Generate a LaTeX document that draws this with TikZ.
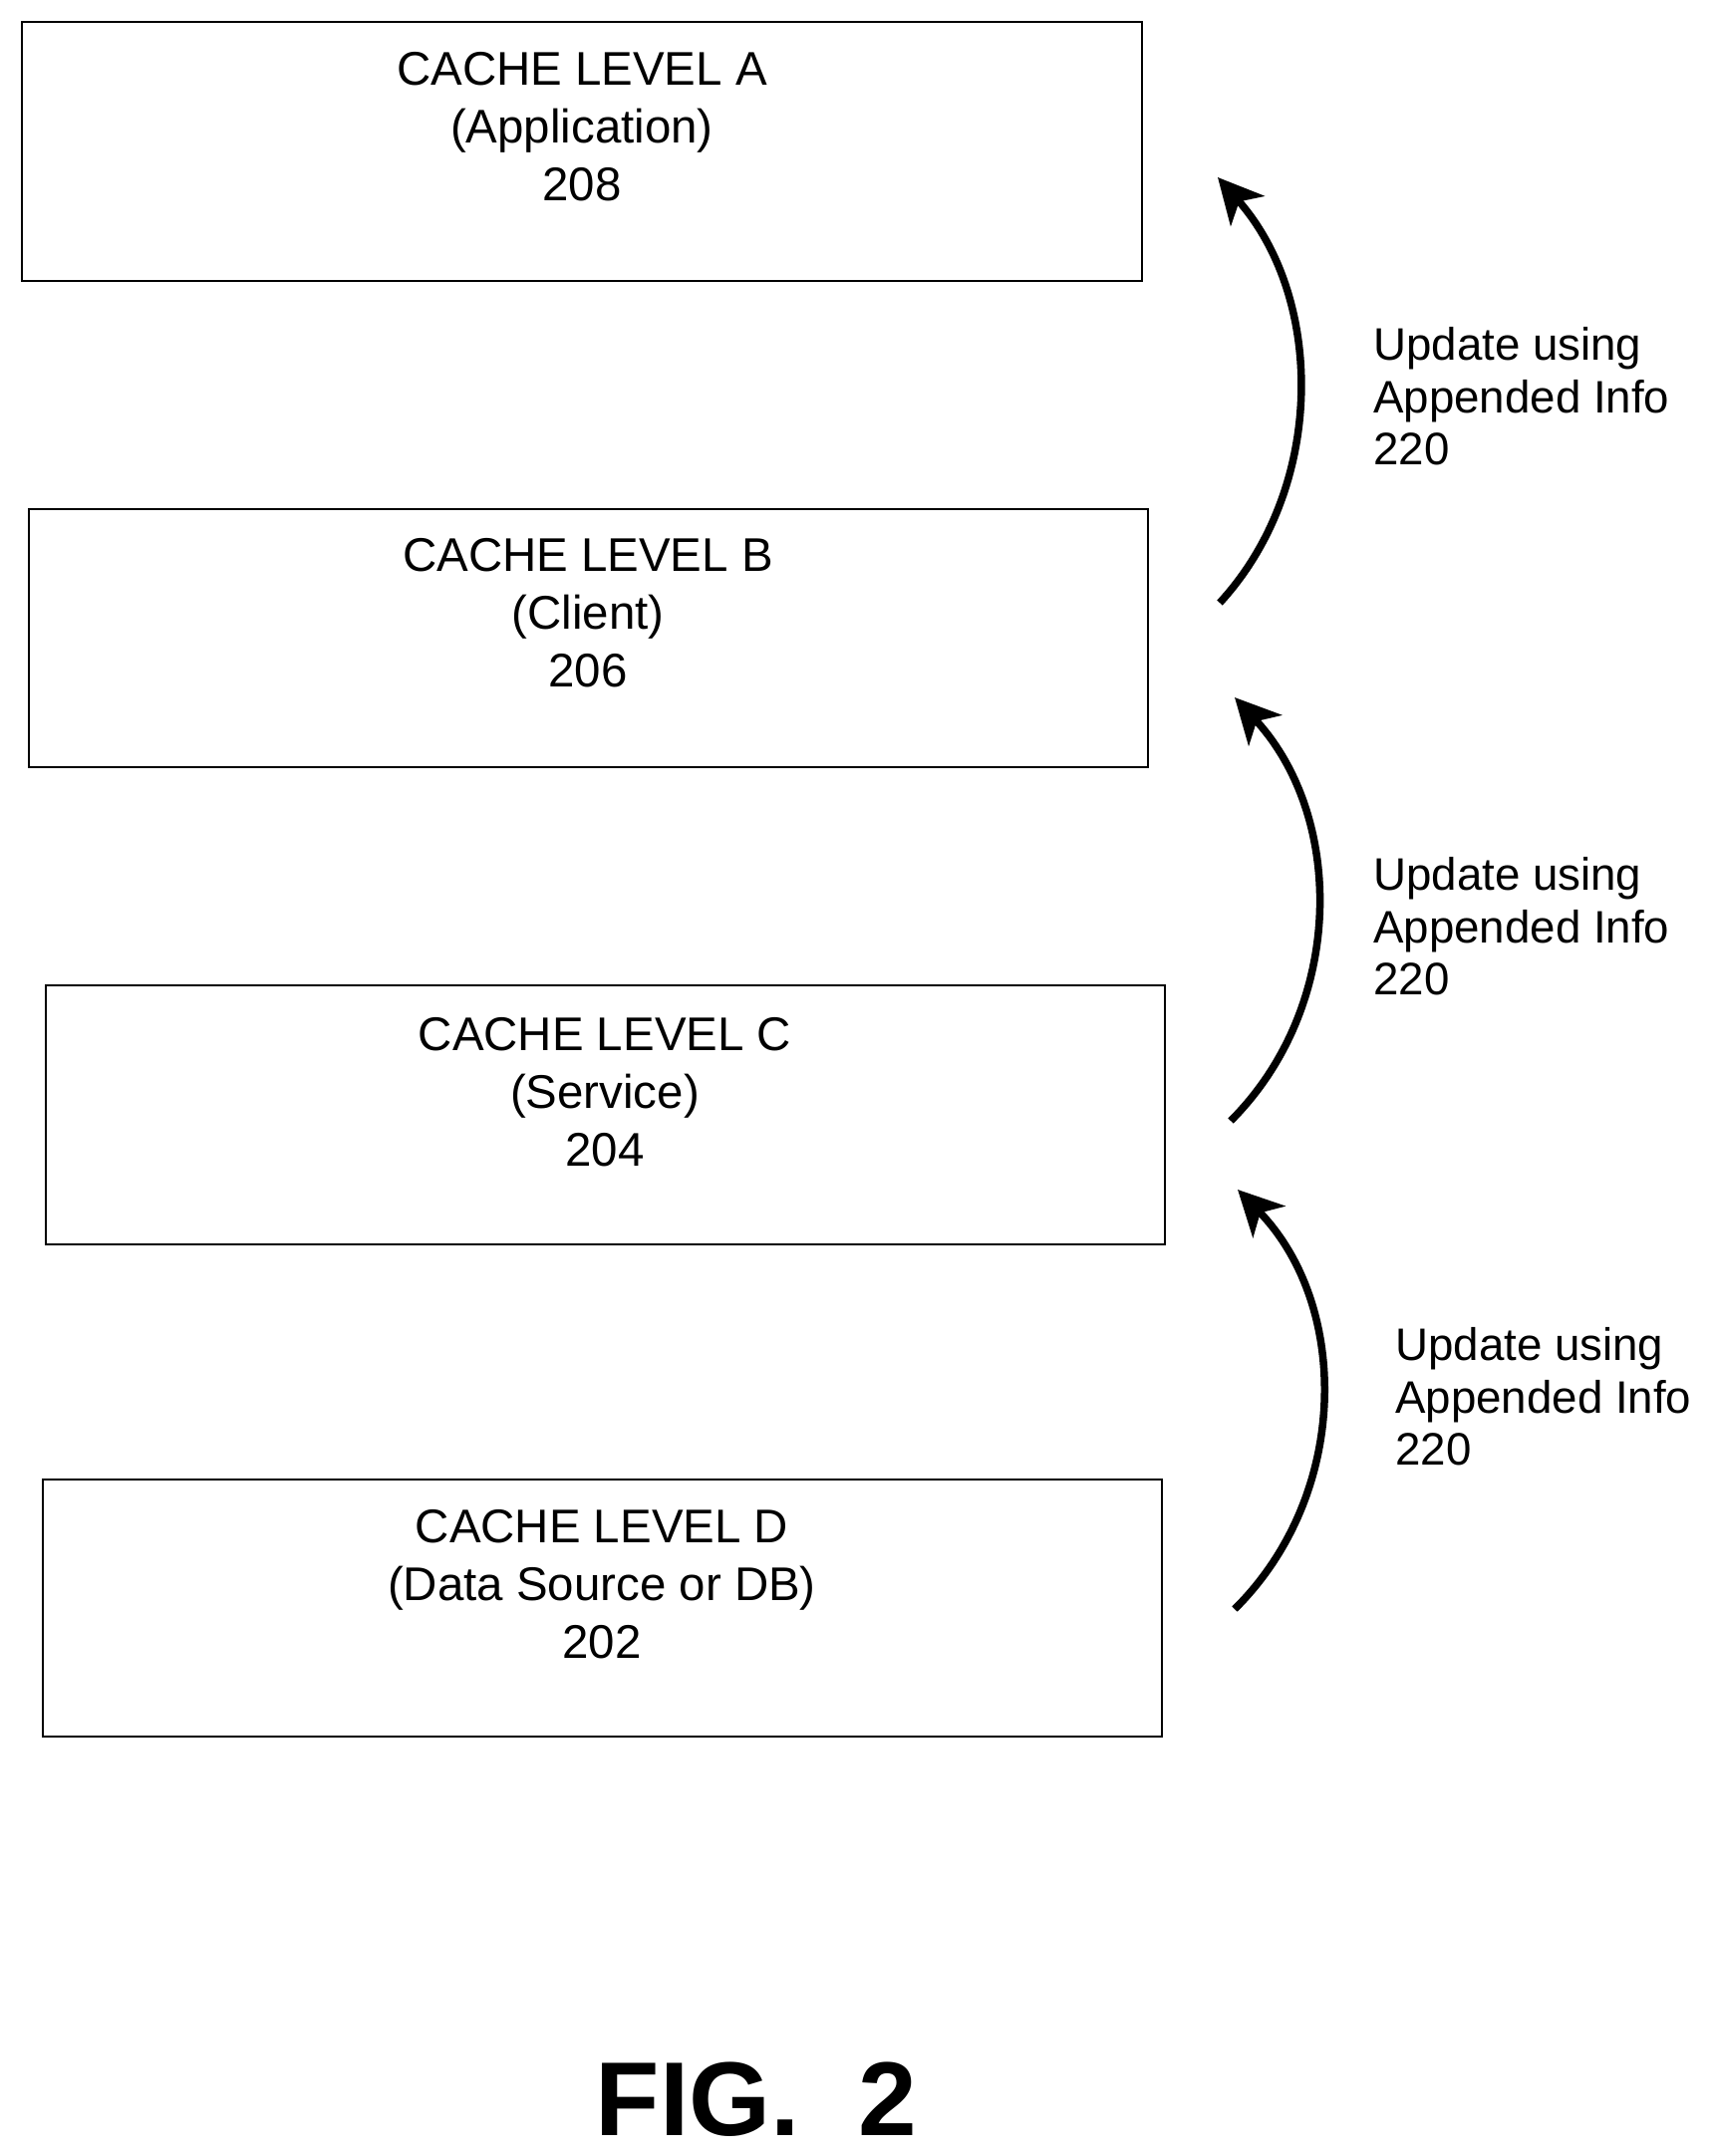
\documentclass[tikz,border=0pt]{standalone}
\usepackage{fontspec}
\setmainfont{Liberation Sans}
\usetikzlibrary{arrows.meta}
\begin{document}
\begin{tikzpicture}[x=0.02cm,y=-0.02cm,
 box/.style={draw,line width=0.045cm},
 txt/.style={font=\fontsize{27}{33}\selectfont,align=center},
 lbl/.style={font=\fontsize{26}{30}\selectfont,align=left,anchor=north west},
 arr/.style={line width=0.15cm,-{Stealth[length=0.9cm,width=0.9cm,inset=0.25cm]}}]
\useasboundingbox (0,0) rectangle (1718,2164);
\draw[box] (22,22) rectangle (1146,282) coordinate (bA);
\draw[box] (29,511) rectangle (1152,770);
\draw[box] (46,989) rectangle (1169,1249);
\draw[box] (43,1485) rectangle (1166,1743);
\node[txt] (A) at (584,127) {CACHE LEVEL A\\(Application)\\208};
\node[txt] (B) at (590,615) {CACHE LEVEL B\\(Client)\\206};
\node[txt] (C) at (607,1096) {CACHE LEVEL C\\(Service)\\204};
\node[txt] (D) at (604,1590) {CACHE LEVEL D\\(Data Source or DB)\\202};
\coordinate (s1) at (1224,605); \coordinate (t1) at (1222,178);
\coordinate (s2) at (1235,1125); \coordinate (t2) at (1239,700);
\coordinate (s3) at (1239,1615); \coordinate (t3) at (1242,1194);
\draw[arr] (s1) .. controls (1330,490) and (1330,300) .. (t1);
\draw[arr] (s2) .. controls (1350,1010) and (1350,820) .. (t2);
\draw[arr] (s3) .. controls (1355,1500) and (1355,1310) .. (t3);
\node[lbl] (L1) at (1372,322) {Update using\\Appended Info\\220};
\node[lbl] (L2) at (1372,854) {Update using\\Appended Info\\220};
\node[lbl] (L3) at (1394,1326) {Update using\\Appended Info\\220};
\node[font=\fontsize{60}{60}\selectfont\bfseries] (F) at (759,2107) {FIG.\ \ 2};
\end{tikzpicture}
\end{document}
